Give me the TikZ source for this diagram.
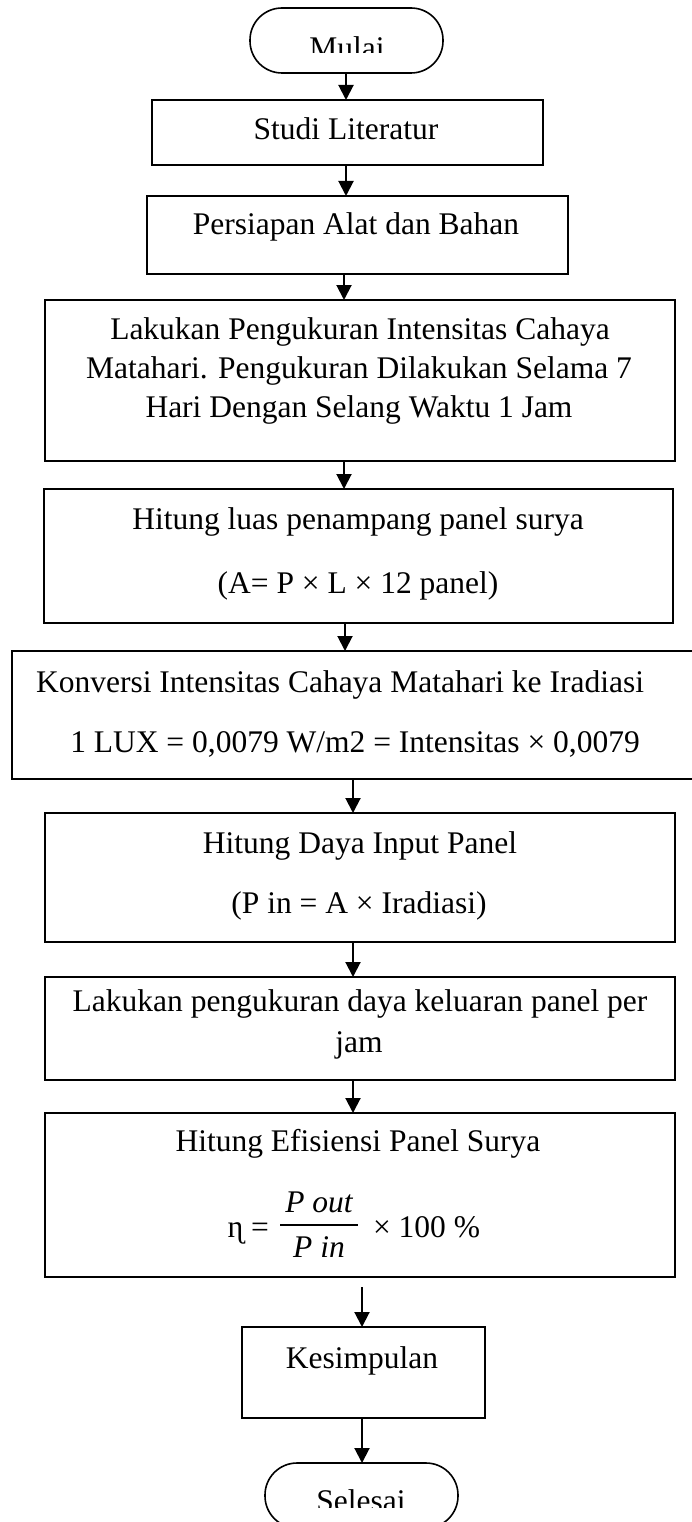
\documentclass[tikz,border=0pt]{standalone}
\usepackage{fontspec}
\setmainfont{Liberation Serif}
\usetikzlibrary{arrows.meta}
\begin{document}
\begin{tikzpicture}[x=1pt,y=-1pt,
  box/.style={draw, line width=1.6pt, inner sep=0pt, outer sep=0pt, anchor=north west},
  term/.style={box, rounded corners=32pt},
  txt/.style={inner sep=0pt, outer sep=0pt, anchor=base, font=\fontsize{31.5}{38}\selectfont},
  itxt/.style={txt, font=\fontsize{31.5}{38}\selectfont\itshape},
  arr/.style={line width=2pt, -{Triangle[length=15pt,width=15pt]}}]
\useasboundingbox (0,0) rectangle (691,1522);
% x positions of the connectors
\coordinate (xa) at (346,0);
\coordinate (xb) at (344,0);
\coordinate (xc) at (345,0);
\coordinate (xd) at (353,0);
\coordinate (xe) at (362,0);
% start
\node[term, minimum width=193pt, minimum height=65pt] (mulai) at (250,8) {};
\begin{scope}
  \clip (250,8) rectangle (443,53);
  \node[txt] (tmulai) at (347,59) {Mulai};
\end{scope}
% boxes
\node[box, minimum width=391pt, minimum height=65pt] (studi) at (152,100) {};
\node[txt] (tstudi) at (346,140) {Studi Literatur};
\node[box, minimum width=421pt, minimum height=78pt] (pers) at (147,196) {};
\node[txt] (tpers) at (356,235) {Persiapan Alat dan Bahan};
\node[box, minimum width=630pt, minimum height=161pt] (lak) at (45,300) {};
\node[txt] (tlak1) at (360,339) {Lakukan Pengukuran Intensitas Cahaya};
\node[txt] (tlak2) at (359,378) {Matahari. Pengukuran Dilakukan Selama 7};
\node[txt] (tlak3) at (359,417) {Hari Dengan Selang Waktu 1 Jam};
\node[box, minimum width=629pt, minimum height=134pt] (luas) at (44,489) {};
\node[txt] (tluas1) at (358,529) {Hitung luas penampang panel surya};
\node[txt] (tluas2) at (358,593) {(A= P × L × 12 panel)};
\node[box, minimum width=700pt, minimum height=128pt] (konv) at (12,651) {};
\node[txt] (tkonv1) at (340,692) {Konversi Intensitas Cahaya Matahari ke Iradiasi};
\node[txt] (tkonv2) at (355,752) {1 LUX = 0,0079 W/m2 = Intensitas × 0,0079};
\node[box, minimum width=630pt, minimum height=129pt] (daya) at (45,813) {};
\node[txt] (tdaya1) at (360,853) {Hitung Daya Input Panel};
\node[txt] (tdaya2) at (359,913) {(P in = A × Iradiasi)};
\node[box, minimum width=630pt, minimum height=103pt] (ukur) at (45,977) {};
\node[txt] (tukur1) at (360,1011) {Lakukan pengukuran daya keluaran panel per};
\node[txt] (tukur2) at (359,1052) {jam};
\node[box, minimum width=630pt, minimum height=164pt] (eff) at (45,1113) {};
\node[txt] (teff) at (358,1151) {Hitung Efisiensi Panel Surya};
% formula
\node[txt, anchor=base east] (eta) at (269,1237) {ɳ =};
\node[itxt] (num) at (319,1212) {P out};
\node[itxt] (den) at (319,1257) {P in};
\draw[line width=2pt] (280,1225) -- (358,1225);
\node[txt, anchor=base west] (pct) at (373,1237) {× 100 \%};
\node[box, minimum width=243pt, minimum height=91pt] (kes) at (242,1327) {};
\node[txt] (tkes) at (362,1368) {Kesimpulan};
% end
\node[term, minimum width=193pt, minimum height=65pt] (sel) at (265,1463) {};
\begin{scope}
  \clip (265,1463) rectangle (458,1507);
  \node[txt] (tsel) at (361,1511) {Selesai};
\end{scope}
% connectors
\draw[arr] (mulai.south -| xa) -- (studi.north -| xa);
\draw[arr] (studi.south -| xa) -- (pers.north -| xa);
\draw[arr] (pers.south -| xb) -- (lak.north -| xb);
\draw[arr] (lak.south -| xb) -- (luas.north -| xb);
\draw[arr] (luas.south -| xc) -- (konv.north -| xc);
\draw[arr] (konv.south -| xd) -- (daya.north -| xd);
\draw[arr] (daya.south -| xd) -- (ukur.north -| xd);
\draw[arr] (ukur.south -| xd) -- (eff.north -| xd);
\draw[arr] ([yshift=-10pt]eff.south -| xe) -- (kes.north -| xe);
\draw[arr] (kes.south -| xe) -- (sel.north -| xe);
\end{tikzpicture}
\end{document}
